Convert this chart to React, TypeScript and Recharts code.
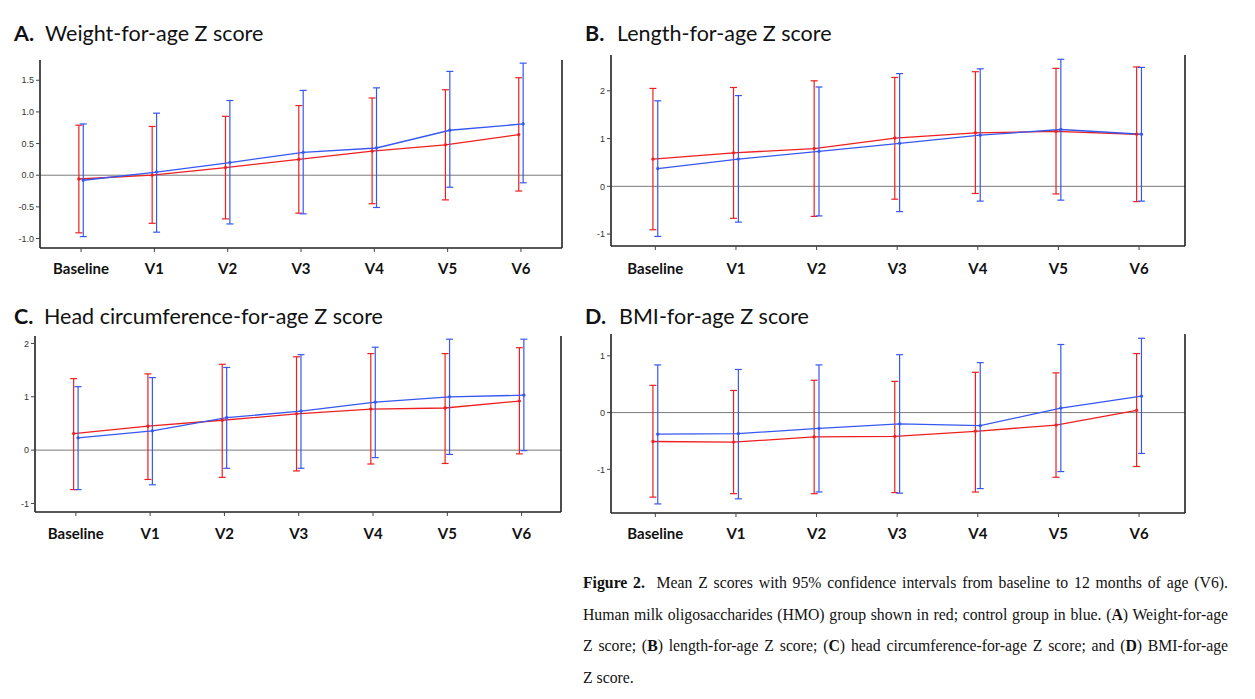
import React from "react";
import { ComposedChart, Line, ErrorBar, XAxis, YAxis, ReferenceLine } from "recharts";

const visits = ["Baseline", "V1", "V2", "V3", "V4", "V5", "V6"];
const visitIdx = [0, 1, 2, 3, 4, 5, 6];

// [lower 95% CI, mean, upper 95% CI] for each visit
const weightHmo = [[-0.91, -0.06, 0.79], [-0.76, 0.0, 0.77], [-0.69, 0.12, 0.93], [-0.6, 0.25, 1.1], [-0.45, 0.38, 1.22], [-0.39, 0.48, 1.35], [-0.25, 0.64, 1.54]];
const weightCtrl = [[-0.97, -0.08, 0.81], [-0.9, 0.05, 0.98], [-0.77, 0.2, 1.18], [-0.61, 0.36, 1.34], [-0.51, 0.43, 1.38], [-0.19, 0.71, 1.64], [-0.12, 0.81, 1.77]];
const lengthHmo = [[-0.91, 0.57, 2.05], [-0.67, 0.7, 2.07], [-0.63, 0.79, 2.21], [-0.27, 1.01, 2.28], [-0.15, 1.12, 2.4], [-0.16, 1.15, 2.47], [-0.32, 1.09, 2.5]];
const lengthCtrl = [[-1.05, 0.37, 1.79], [-0.75, 0.57, 1.9], [-0.62, 0.73, 2.08], [-0.53, 0.9, 2.36], [-0.31, 1.07, 2.46], [-0.29, 1.19, 2.66], [-0.31, 1.09, 2.49]];
const headHmo = [[-0.74, 0.31, 1.34], [-0.55, 0.45, 1.43], [-0.51, 0.56, 1.61], [-0.39, 0.68, 1.75], [-0.26, 0.77, 1.81], [-0.25, 0.79, 1.81], [-0.07, 0.92, 1.92]];
const headCtrl = [[-0.74, 0.23, 1.19], [-0.65, 0.36, 1.36], [-0.34, 0.61, 1.55], [-0.34, 0.73, 1.79], [-0.14, 0.9, 1.93], [-0.08, 1.0, 2.08], [-0.01, 1.03, 2.08]];
const bmiHmo = [[-1.49, -0.51, 0.48], [-1.43, -0.52, 0.39], [-1.43, -0.43, 0.57], [-1.41, -0.42, 0.55], [-1.4, -0.33, 0.71], [-1.14, -0.22, 0.7], [-0.95, 0.04, 1.04]];
const bmiCtrl = [[-1.61, -0.38, 0.84], [-1.52, -0.37, 0.76], [-1.4, -0.28, 0.84], [-1.42, -0.2, 1.02], [-1.34, -0.23, 0.88], [-1.04, 0.08, 1.2], [-0.72, 0.29, 1.31]];

const ticksWeight = [-1, -0.5, 0, 0.5, 1, 1.5];
const ticksLength = [-1, 0, 1, 2];
const ticksHead = [-1, 0, 1, 2];
const ticksBmi = [-1, 0, 1];

const RED = "#f01f1f";
const BLUE = "#3658f2";
const AXIS = "#222";

function rows(vals: number[][], shift: number) {
  return vals.map(([lo, m, hi], i) => ({ x: i + shift, mean: m, err: [m - lo, hi - m] }));
}

type Box = { x0: number; x1: number; y0: number; y1: number };

function Panel(props: {
  letter: string;
  title: string;
  lx: number;
  tx: number;
  ty: number;
  hmo: number[][];
  ctrl: number[][];
  yTicks: number[];
  yDomain: [number, number];
  xDomain: [number, number];
  box: Box;
  decimals: number;
  labelGap: number;
}) {
  const { box } = props;
  const yw = 34;
  const top = 10;
  const right = 10;
  const xAxisH = 38;
  const width = box.x1 - box.x0 + yw + right;
  const height = box.y1 - box.y0 + top + xAxisH;
  return (
    <>
      <div style={{ position: "absolute", left: props.lx, top: props.ty - 14, fontFamily: "Lato", fontWeight: 700, fontSize: 21.5, lineHeight: "28px", color: "#111" }}>
        {props.letter}
      </div>
      <div style={{ position: "absolute", left: props.tx, top: props.ty - 14, fontFamily: "Lato", fontSize: 21.5, lineHeight: "28px", color: "#111", whiteSpace: "nowrap" }}>
        {props.title}
      </div>
      <div style={{ position: "absolute", left: box.x0 - yw, top: box.y0 - top }}>
        <ComposedChart width={width} height={height} margin={{ top, right, bottom: 0, left: 0 }}>
          <XAxis
            type="number"
            dataKey="x"
            domain={props.xDomain}
            allowDataOverflow
            ticks={visitIdx}
            interval={0}
            tickFormatter={(v: number) => visits[Math.round(v)]}
            height={xAxisH}
            tickSize={4}
            tickMargin={props.labelGap}
            axisLine={{ stroke: AXIS, strokeWidth: 1.6 }}
            tickLine={{ stroke: "#444" }}
            tick={{ fontFamily: "Lato", fontWeight: 700, fontSize: 15, fill: "#111" }}
          />
          <YAxis
            type="number"
            domain={props.yDomain}
            allowDataOverflow
            ticks={props.yTicks}
            interval={0}
            width={yw}
            tickFormatter={(v: number) => v.toFixed(props.decimals)}
            tickSize={4}
            tickMargin={2}
            axisLine={{ stroke: AXIS, strokeWidth: 1.6 }}
            tickLine={{ stroke: "#444" }}
            tick={{ fontFamily: "Liberation Sans", fontSize: 9, fill: "#333" }}
          />
          <ReferenceLine y={0} stroke="#7a7a7a" strokeWidth={1} />
          <ReferenceLine x={props.xDomain[1]} stroke={AXIS} strokeWidth={1.6} />
          <Line
            data={rows(props.hmo, -0.03)}
            dataKey="mean"
            stroke={RED}
            strokeWidth={1.3}
            dot={{ r: 1.4, fill: RED, stroke: RED, strokeWidth: 0.5 }}
            isAnimationActive={false}
          >
            <ErrorBar dataKey="err" direction="y" width={3.5} stroke={RED} strokeWidth={1.2} isAnimationActive={false} />
          </Line>
          <Line
            data={rows(props.ctrl, 0.03)}
            dataKey="mean"
            stroke={BLUE}
            strokeWidth={1.3}
            dot={{ r: 1.4, fill: BLUE, stroke: BLUE, strokeWidth: 0.5 }}
            isAnimationActive={false}
          >
            <ErrorBar dataKey="err" direction="y" width={3.5} stroke={BLUE} strokeWidth={1.2} isAnimationActive={false} />
          </Line>
        </ComposedChart>
      </div>
    </>
  );
}

const lineStyle: React.CSSProperties = { textAlign: "justify", textAlignLast: "justify" };
const nw: React.CSSProperties = { whiteSpace: "nowrap" };
const squeeze = 0.9;

export default function App() {
  return (
    <div style={{ position: "absolute", left: 0, top: 0, width: 1255, height: 699, background: "#fff", overflow: "hidden" }}>
      <Panel letter="A." title="Weight-for-age Z score" lx={14} tx={45} ty={33} hmo={weightHmo} ctrl={weightCtrl}
        yTicks={ticksWeight} yDomain={[-1.15, 1.82]} xDomain={[-0.56, 6.56]} box={{ x0: 40, x1: 562, y0: 60, y1: 248 }} decimals={1} labelGap={11} />
      <Panel letter="B." title="Length-for-age Z score" lx={585} tx={617} ty={33} hmo={lengthHmo} ctrl={lengthCtrl}
        yTicks={ticksLength} yDomain={[-1.25, 2.75]} xDomain={[-0.55, 6.57]} box={{ x0: 611, x1: 1185, y0: 55, y1: 246 }} decimals={0} labelGap={13} />
      <Panel letter="C." title="Head circumference-for-age Z score" lx={14} tx={44} ty={316} hmo={headHmo} ctrl={headCtrl}
        yTicks={ticksHead} yDomain={[-1.16, 2.14]} xDomain={[-0.55, 6.53]} box={{ x0: 35, x1: 561, y0: 336, y1: 512 }} decimals={0} labelGap={12} />
      <Panel letter="D." title="BMI-for-age Z score" lx={585} tx={619} ty={316} hmo={bmiHmo} ctrl={bmiCtrl}
        yTicks={ticksBmi} yDomain={[-1.77, 1.385]} xDomain={[-0.55, 6.57]} box={{ x0: 611, x1: 1185, y0: 334, y1: 513 }} decimals={0} labelGap={11} />

      <div style={{ position: "absolute", left: 583, top: 567, width: 645 / squeeze, transform: `scaleX(${squeeze})`, transformOrigin: "0 0", fontFamily: "Liberation Serif", fontSize: 17.5, lineHeight: "31.5px", color: "#111" }}>
        <div style={lineStyle}>
          <b>Figure 2.</b>&nbsp; Mean Z scores with 95% confidence intervals from baseline to 12 months of age (V6).
        </div>
        <div style={lineStyle}>
          Human milk oligosaccharides (HMO) group shown in red; control group in blue. (<b>A</b>) <span style={nw}>Weight-for-age</span>
        </div>
        <div style={lineStyle}>
          Z score; (<b>B</b>) <span style={nw}>length-for-age</span> Z score; (<b>C</b>) head <span style={nw}>circumference-for-age</span> Z score; and (<b>D</b>) <span style={nw}>BMI-for-age</span>
        </div>
        <div>Z score.</div>
      </div>
    </div>
  );
}
